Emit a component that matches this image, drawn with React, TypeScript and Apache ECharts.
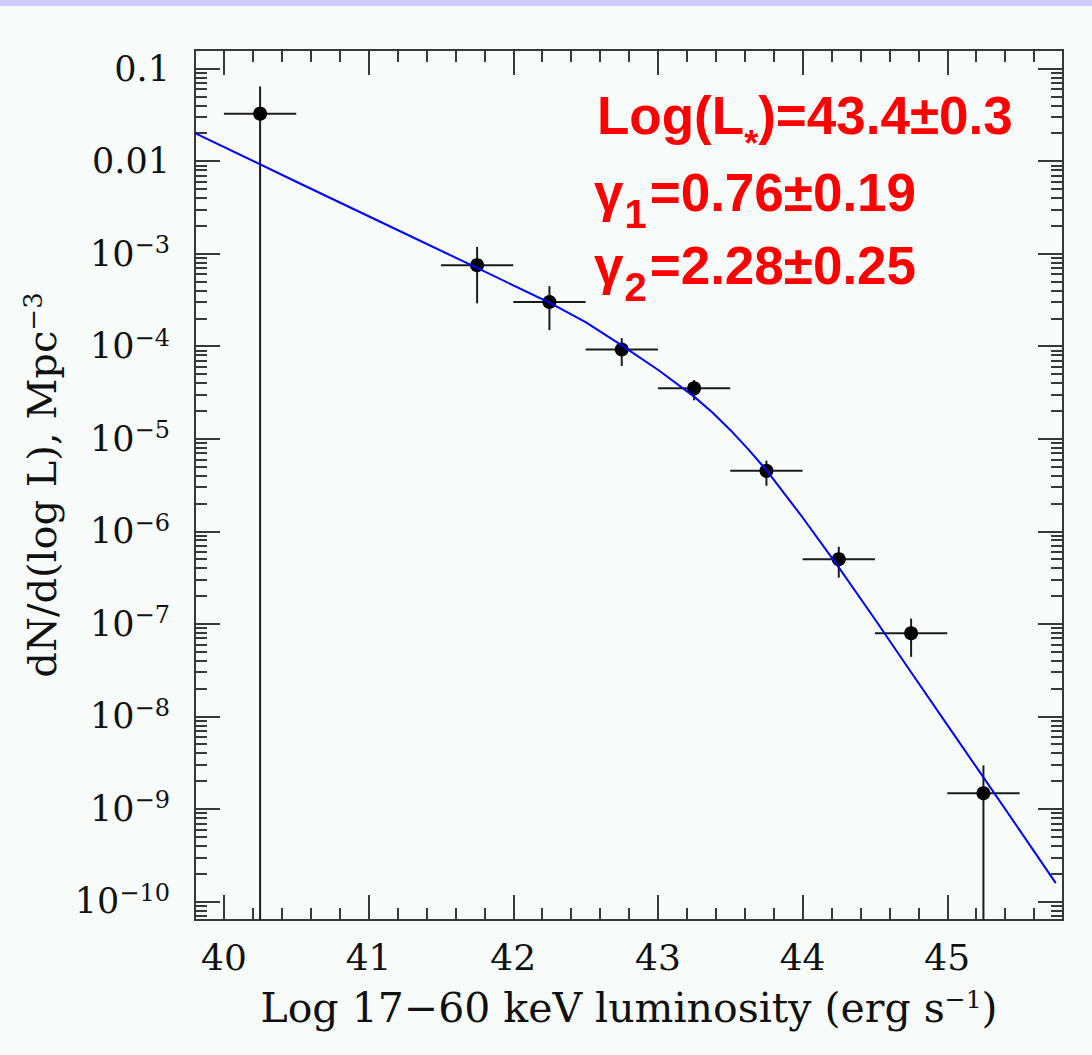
import React, { useEffect, useRef } from 'react';
import * as echarts from 'echarts';

// ---- axis ranges (log10 for the y axis) ----
const X_MIN = 39.8;
const X_MAX = 45.8;
const Y_LOG_MIN = -10.2;
const Y_LOG_MAX = -0.8;

// ---- tick labels ----
const X_TICKS = [40, 41, 42, 43, 44, 45];
const Y_TICK_EXPONENTS = [-10, -9, -8, -7, -6, -5, -4, -3, -2, -1];

// ---- measured luminosity function (bins) ----
const binCenter = [40.25, 41.75, 42.25, 42.75, 43.25, 43.75, 44.25, 44.75, 45.25];
const binLow = [40.0, 41.5, 42.0, 42.5, 43.0, 43.5, 44.0, 44.5, 45.0];
const binHigh = [40.5, 42.0, 42.5, 43.0, 43.5, 44.0, 44.5, 45.0, 45.5];
const density = [3.25e-2, 7.5e-4, 3.0e-4, 9.2e-5, 3.5e-5, 4.5e-6, 5.0e-7, 7.9e-8, 1.48e-9];
const densityLow = [0, 2.9e-4, 1.49e-4, 6.1e-5, 2.6e-5, 3.1e-6, 3.15e-7, 4.4e-8, 0];
const densityHigh = [6.4e-2, 1.18e-3, 4.45e-4, 1.22e-4, 4.3e-5, 5.8e-6, 6.8e-7, 1.14e-7, 2.95e-9];

// ---- best-fit broken power law ----
const modelLogL = [39.8, 40.5, 41.2, 41.75, 42.25, 42.5, 42.75, 43.0, 43.25, 43.375, 43.5, 43.625, 43.75, 44.0, 44.25, 44.5, 44.75, 45.0, 45.25, 45.5, 45.75];
const modelDensity = [2.0e-2, 5.98e-3, 1.8e-3, 7.0e-4, 2.95e-4, 1.82e-4, 1.02e-4, 5.56e-5, 2.85e-5, 1.93e-5, 1.245e-5, 7.67e-6, 4.57e-6, 1.41e-6, 4.07e-7, 1.12e-7, 3.0e-8, 8.1e-9, 2.19e-9, 5.9e-10, 1.58e-10];

const SERIF = "'DejaVu Serif', serif";
const SANS = "'Liberation Sans', Arial, sans-serif";
const AXIS_COLOR = '#383838';

function lg(v: number): number {
  return Math.max(Math.log10(v), Y_LOG_MIN);
}

function xMinorTicks(): number[] {
  const out: number[] = [];
  for (let i = 1; i < 30; i++) {
    const v = Math.round((X_MIN + 0.2 * i) * 10) / 10;
    if (Math.abs(v - Math.round(v)) > 1e-6) out.push(v);
  }
  return out;
}

function yMinorTicks(): number[] {
  const out: number[] = [];
  for (let n = -11; n <= -1; n++) {
    for (let k = 2; k <= 9; k++) {
      const v = n + Math.log10(k);
      if (v > Y_LOG_MIN + 1e-6 && v < Y_LOG_MAX - 1e-6) out.push(v);
    }
  }
  return out;
}

function buildOption(): any {
  const xMinor = xMinorTicks();
  const yMinor = yMinorTicks();
  const lineStyle = { color: AXIS_COLOR, width: 2 };

  const xBase = {
    type: 'value',
    min: X_MIN,
    max: X_MAX,
    splitLine: { show: false },
    axisLine: { show: true, onZero: false, lineStyle },
  };
  const yBase = {
    type: 'value',
    min: Y_LOG_MIN,
    max: Y_LOG_MAX,
    splitLine: { show: false },
    axisLine: { show: true, onZero: false, lineStyle },
  };

  const errData = binCenter.map((x, i) => [
    x,
    lg(density[i]),
    binLow[i],
    binHigh[i],
    lg(densityLow[i]),
    lg(densityHigh[i]),
  ]);

  const redMain = { fontFamily: SANS, fontWeight: 'bold', fontSize: 53, lineHeight: 60, fill: '#ff0000' };
  const redSub = { fontFamily: SANS, fontWeight: 'bold', fontSize: 40, lineHeight: 60, height: 16, fill: '#ff0000', padding: [44, 3, 0, 1] };

  return {
    animation: false,
    backgroundColor: '#f7fcfa',
    grid: { left: 195, top: 50, right: 29, bottom: 135, containLabel: false },
    xAxis: [
      {
        ...xBase,
        position: 'bottom',
        axisTick: { show: true, inside: true, length: 25, customValues: X_TICKS, lineStyle },
        axisLabel: {
          show: true,
          customValues: X_TICKS,
          margin: 18,
          fontFamily: SERIF,
          fontSize: 36,
          lineHeight: 38,
          color: '#111',
          formatter: (v: number) => String(v),
        },
        name: '{t|Log 17−60 keV luminosity (erg s}{s|−1}{t|)}',
        nameLocation: 'middle',
        nameGap: 65,
        nameTextStyle: {
          rich: {
            t: { fontFamily: SERIF, fontSize: 41, lineHeight: 46, color: '#111' },
            s: { fontFamily: SERIF, fontSize: 25, lineHeight: 46, color: '#111', padding: [0, 0, 18, 0] },
          },
        },
      },
      {
        ...xBase,
        position: 'bottom',
        axisTick: { show: true, inside: true, length: 12, customValues: xMinor, lineStyle },
        axisLabel: { show: false },
      },
      {
        ...xBase,
        position: 'top',
        axisTick: { show: true, inside: true, length: 25, customValues: X_TICKS, lineStyle },
        axisLabel: { show: false },
      },
      {
        ...xBase,
        position: 'top',
        axisTick: { show: true, inside: true, length: 12, customValues: xMinor, lineStyle },
        axisLabel: { show: false },
      },
    ],
    yAxis: [
      {
        ...yBase,
        position: 'left',
        axisTick: { show: true, inside: true, length: 25, customValues: Y_TICK_EXPONENTS, lineStyle },
        axisLabel: {
          show: true,
          customValues: Y_TICK_EXPONENTS,
          margin: 25,
          formatter: (v: number) => {
            const e = Math.round(v);
            if (e === -1) return '{b|0.1}';
            if (e === -2) return '{b|0.01}';
            return '{b|10}{s|−' + String(-e) + '}';
          },
          rich: {
            b: { fontFamily: SERIF, fontSize: 35, lineHeight: 38, color: '#111' },
            s: { fontFamily: SERIF, fontSize: 24, lineHeight: 38, color: '#111', padding: [0, 0, 17, 0] },
          },
        },
        name: '{t|dN/d(log L), Mpc}{s|−3}',
        nameLocation: 'middle',
        nameGap: 127,
        nameTextStyle: {
          rich: {
            t: { fontFamily: SERIF, fontSize: 40, lineHeight: 44, color: '#111' },
            s: { fontFamily: SERIF, fontSize: 26, lineHeight: 44, color: '#111', padding: [0, 0, 18, 0] },
          },
        },
      },
      {
        ...yBase,
        position: 'left',
        axisTick: { show: true, inside: true, length: 12, customValues: yMinor, lineStyle },
        axisLabel: { show: false },
      },
      {
        ...yBase,
        position: 'right',
        axisTick: { show: true, inside: true, length: 25, customValues: Y_TICK_EXPONENTS, lineStyle },
        axisLabel: { show: false },
      },
      {
        ...yBase,
        position: 'right',
        axisTick: { show: true, inside: true, length: 12, customValues: yMinor, lineStyle },
        axisLabel: { show: false },
      },
    ],
    series: [
      {
        type: 'custom',
        xAxisIndex: 0,
        yAxisIndex: 0,
        silent: true,
        z: 2,
        encode: { x: 0, y: 1 },
        data: errData,
        renderItem: (_params: any, api: any) => {
          const x = api.value(0);
          const y = api.value(1);
          const pL = api.coord([api.value(2), y]);
          const pR = api.coord([api.value(3), y]);
          const pB = api.coord([x, api.value(4)]);
          const pT = api.coord([x, api.value(5)]);
          const st = { stroke: '#1c1c1c', lineWidth: 2 };
          return {
            type: 'group',
            children: [
              { type: 'line', shape: { x1: pL[0], y1: pL[1], x2: pR[0], y2: pR[1] }, style: st },
              { type: 'line', shape: { x1: pB[0], y1: pB[1], x2: pT[0], y2: pT[1] }, style: st },
            ],
          };
        },
      },
      {
        type: 'scatter',
        xAxisIndex: 0,
        yAxisIndex: 0,
        silent: true,
        z: 3,
        symbol: 'circle',
        symbolSize: 14,
        itemStyle: { color: '#000', opacity: 1 },
        data: binCenter.map((x, i) => [x, lg(density[i])]),
      },
      {
        type: 'line',
        xAxisIndex: 0,
        yAxisIndex: 0,
        silent: true,
        z: 4,
        showSymbol: false,
        symbol: 'none',
        smooth: false,
        lineStyle: { color: '#0000ff', width: 2 },
        data: modelLogL.map((x, i) => [x, lg(modelDensity[i])]),
      },
    ],
    graphic: [
      {
        type: 'rect',
        shape: { x: 0, y: 0, width: 1092, height: 6 },
        style: { fill: '#ccccff' },
        silent: true,
      },
      {
        type: 'text',
        x: 597,
        y: 85,
        silent: true,
        style: {
          text: '{m|Log(L}{sub|*}{m|)=43.4±0.3}',
          verticalAlign: 'top',
          align: 'left',
          rich: {
            m: redMain,
            sub: { fontFamily: SANS, fontWeight: 'bold', fontSize: 36, lineHeight: 60, height: 16, fill: '#ff0000', padding: [56, 0, 0, 0] },
          },
        },
      },
      {
        type: 'text',
        x: 594,
        y: 162,
        silent: true,
        style: {
          text: '{m|γ}{sub|1}{m|=0.76±0.19}',
          verticalAlign: 'top',
          align: 'left',
          rich: { m: redMain, sub: redSub },
        },
      },
      {
        type: 'text',
        x: 594,
        y: 235,
        silent: true,
        style: {
          text: '{m|γ}{sub|2}{m|=2.28±0.25}',
          verticalAlign: 'top',
          align: 'left',
          rich: { m: redMain, sub: redSub },
        },
      },
    ],
  };
}

export default function App() {
  const ref = useRef<HTMLDivElement>(null);
  useEffect(() => {
    if (!ref.current) return;
    const chart = echarts.init(ref.current, undefined, { renderer: 'svg' });
    chart.setOption(buildOption());
    return () => {
      chart.dispose();
    };
  }, []);
  return (
    <div
      ref={ref}
      style={{ position: 'absolute', left: 0, top: 0, width: 1092, height: 1055 }}
    />
  );
}
